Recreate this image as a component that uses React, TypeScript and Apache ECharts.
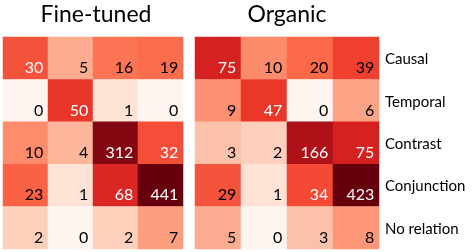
import React, { useEffect, useRef } from "react";
import * as echarts from "echarts";

const rows = ["Causal", "Temporal", "Contrast", "Conjunction", "No relation"];
const cols = ["c1", "c2", "c3", "c4"];
const fineTuned = [
  [30, 5, 16, 19],
  [0, 50, 1, 0],
  [10, 4, 312, 32],
  [23, 1, 68, 441],
  [2, 0, 2, 7],
];
const organic = [
  [75, 10, 20, 39],
  [9, 47, 0, 6],
  [3, 2, 166, 75],
  [29, 1, 34, 423],
  [5, 0, 3, 8],
];
// cells whose number is printed in white
const fineTunedWhite = [
  [1, 0, 0, 0],
  [0, 1, 0, 0],
  [0, 0, 1, 1],
  [0, 0, 1, 1],
  [0, 0, 0, 0],
];
const organicWhite = [
  [1, 0, 0, 0],
  [0, 1, 0, 0],
  [0, 0, 1, 1],
  [0, 0, 1, 1],
  [0, 0, 0, 0],
];

const REDS = ["#fff5f0", "#fee0d2", "#fcbba1", "#fc9272", "#fb6a4a", "#ef3b2c", "#cb181d", "#a50f15", "#67000d"];
const FONT = "Lato";

function build(m: number[][], white: number[][]) {
  const mx = Math.max(...m.flat());
  const out: any[] = [];
  m.forEach((r, i) =>
    r.forEach((v, j) => {
      out.push({
        value: [j, i, v, Math.log1p(v) / Math.log1p(mx)],
        label: { color: white[i][j] ? "#ffffff" : "#000000" },
      });
    })
  );
  return out;
}

export default function App() {
  const ref = useRef<HTMLDivElement>(null);
  useEffect(() => {
    const chart = echarts.init(ref.current!, null, { renderer: "svg" });
    const axisCommon = {
      axisLine: { show: false },
      axisTick: { show: false },
      splitLine: { show: false },
    };
    const label = {
      show: true,
      position: "insideBottomRight",
      distance: 5,
      fontFamily: FONT,
      fontSize: 16,
      formatter: (p: any) => String(p.value[2]),
    };
    chart.setOption({
      animation: false,
      grid: [
        { left: 3, top: 37, width: 180, height: 212 },
        { left: 195, top: 37, width: 184, height: 212 },
      ],
      xAxis: [
        { type: "category", data: cols, gridIndex: 0, axisLabel: { show: false }, ...axisCommon },
        { type: "category", data: cols, gridIndex: 1, axisLabel: { show: false }, ...axisCommon },
      ],
      yAxis: [
        { type: "category", data: rows, gridIndex: 0, inverse: true, axisLabel: { show: false }, ...axisCommon },
        {
          type: "category",
          data: rows,
          gridIndex: 1,
          inverse: true,
          position: "right",
          axisLabel: { show: true, margin: 6, fontFamily: FONT, fontSize: 15, color: "#000" },
          ...axisCommon,
        },
      ],
      visualMap: [
        { type: "continuous", show: false, dimension: 3, min: 0, max: 1, seriesIndex: 0, inRange: { color: REDS } },
        { type: "continuous", show: false, dimension: 3, min: 0, max: 1, seriesIndex: 1, inRange: { color: REDS } },
      ],
      graphic: [
        { type: "text", x: 96, y: 1, style: { text: "Fine-tuned", fontFamily: FONT, fontSize: 23, fill: "#000", textAlign: "center" } },
        { type: "text", x: 287, y: 1, style: { text: "Organic", fontFamily: FONT, fontSize: 23, fill: "#000", textAlign: "center" } },
      ],
      series: [
        { type: "heatmap", xAxisIndex: 0, yAxisIndex: 0, data: build(fineTuned, fineTunedWhite), label },
        { type: "heatmap", xAxisIndex: 1, yAxisIndex: 1, data: build(organic, organicWhite), label },
      ],
    });
    return () => chart.dispose();
  }, []);
  return <div ref={ref} style={{ position: "fixed", left: 0, top: 0, width: 476, height: 252 }} />;
}
